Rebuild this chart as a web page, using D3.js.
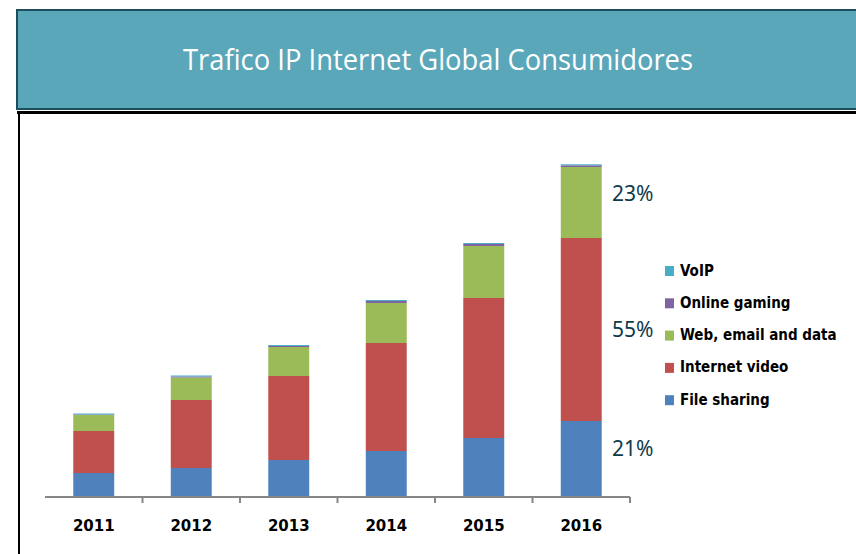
<!DOCTYPE html>
<html>
<head>
<meta charset="utf-8">
<script src="https://cdnjs.cloudflare.com/ajax/libs/d3/7.8.5/d3.min.js"></script>
<style>
	body { margin: 0; background: #fff; }
	svg { display: block; }
</style>
</head>
<body>
<div id="chart"></div>
<script>
var width = 856;
var height = 554;

// data (PB / mes)
var years = ["2011", "2012", "2013", "2014", "2015", "2016"];
var fileSharing = [4800, 5800, 7400, 9200, 11800, 15200];
var internetVideo = [8400, 13600, 16800, 21600, 28000, 36600];
var webData = [3200, 4500, 5800, 8000, 10400, 14200];
var onlineGaming = [100, 200, 200, 400, 400, 340];
var voip = [200, 200, 200, 200, 200, 200];

var seriesNames = ["File sharing", "Internet video", "Web, email and data", "Online gaming", "VoIP"];
var seriesColors = ["#4F81BD", "#C0504D", "#9BBB59", "#8064A2", "#4BACC6"];
var shareLabels = ["21%", "55%", "23%"]; // file, video, web of 2016

var title = "Trafico IP Internet Global Consumidores";

var rows = years.map(function(y, i){
	return {
		year: y,
		"File sharing": fileSharing[i],
		"Internet video": internetVideo[i],
		"Web, email and data": webData[i],
		"Online gaming": onlineGaming[i],
		"VoIP": voip[i]
	};
});

var stack = d3.stack().keys(seriesNames)(rows);

var svg = d3.select("#chart").append("svg")
	.attr("width", width)
	.attr("height", height);

//title banner
svg.append("rect")
	.attr("x", 17)
	.attr("y", 10)
	.attr("width", 860)
	.attr("height", 99)
	.style("fill", "#5AA7BA")
	.style("stroke", "#1D4E5E")
	.style("stroke-width", 2);

svg.append("line")
	.attr("x1", 17).attr("x2", width)
	.attr("y1", 112.5).attr("y2", 112.5)
	.style("stroke", "#000")
	.style("stroke-width", 3);

svg.append("line")
	.attr("x1", 19).attr("x2", 19)
	.attr("y1", 111).attr("y2", height)
	.style("stroke", "#000")
	.style("stroke-width", 2);

svg.append("text")
	.attr("x", 438)
	.attr("y", 70)
	.attr("text-anchor", "middle")
	.attr("textLength", 510)
	.attr("lengthAdjust", "spacingAndGlyphs")
	.style("font-family", "'Open Sans', sans-serif")
	.style("font-size", "30px")
	.style("fill", "#fff")
	.text(title);

// scales
var x = d3.scaleBand()
	.domain(years)
	.range([45, 630])
	.paddingInner(0.58)
	.paddingOuter(0.29);

var y = d3.scaleLinear()
	.domain([0, 70000])
	.range([497, 147]);

var step = x.step();

// bars
var layers = svg.append("g").selectAll("g")
	.data(stack)
	.enter()
	.append("g")
	.style("fill", function(d, i){ return seriesColors[i]; });

layers.selectAll("rect")
	.data(function(d){ return d; })
	.enter()
	.append("rect")
	.attr("x", function(d){ return x(d.data.year); })
	.attr("width", x.bandwidth())
	.attr("y", function(d){ return y(d[1]); })
	.attr("height", function(d){ return y(d[0]) - y(d[1]); });

// axis line + ticks between categories
svg.append("line")
	.attr("x1", 45).attr("x2", 630)
	.attr("y1", 497).attr("y2", 497)
	.style("stroke", "#868686")
	.style("stroke-width", 2);

svg.append("g").selectAll("line")
	.data(d3.range(1, years.length + 1))
	.enter()
	.append("line")
	.attr("x1", function(d){ return 45 + d * step; })
	.attr("x2", function(d){ return 45 + d * step; })
	.attr("y1", 497).attr("y2", 503)
	.style("stroke", "#868686")
	.style("stroke-width", 2);

svg.append("g").selectAll("text")
	.data(years)
	.enter()
	.append("text")
	.attr("x", function(d){ return x(d) + x.bandwidth() / 2; })
	.attr("y", 531)
	.attr("text-anchor", "middle")
	.style("font-family", "'DejaVu Sans', sans-serif")
	.style("font-weight", "bold")
	.style("font-size", "15px")
	.style("fill", "#000")
	.text(function(d){ return d; });

// share labels for 2016
var last = years.length - 1;
var labelShift = [-10, 0, -9];
svg.append("g").selectAll("text")
	.data(shareLabels)
	.enter()
	.append("text")
	.attr("x", 612)
	.attr("y", function(d, i){
		var seg = stack[i][last];
		return (y(seg[0]) + y(seg[1])) / 2 + labelShift[i] + 7;
	})
	.style("font-family", "'Noto Sans', sans-serif")
	.style("font-size", "21px")
	.style("fill", "#0E3B4A")
	.text(function(d){ return d; });

// legend, top to bottom is reversed series order
var legendItems = seriesNames.map(function(n, i){ return {name: n, color: seriesColors[i]}; }).reverse();

var legend = svg.append("g").selectAll("g")
	.data(legendItems)
	.enter()
	.append("g")
	.attr("transform", function(d, i){ return "translate(665," + (266 + i * 32.3) + ")"; });

legend.append("rect")
	.attr("width", 9)
	.attr("height", 10)
	.style("fill", function(d){ return d.color; });

legend.append("text")
	.attr("x", 15)
	.attr("y", 9.5)
	.style("font-family", "'DejaVu Sans Condensed', 'DejaVu Sans', sans-serif")
	.style("font-weight", "bold")
	.style("font-size", "15px")
	.style("fill", "#000")
	.text(function(d){ return d.name; });
</script>
</body>
</html>
